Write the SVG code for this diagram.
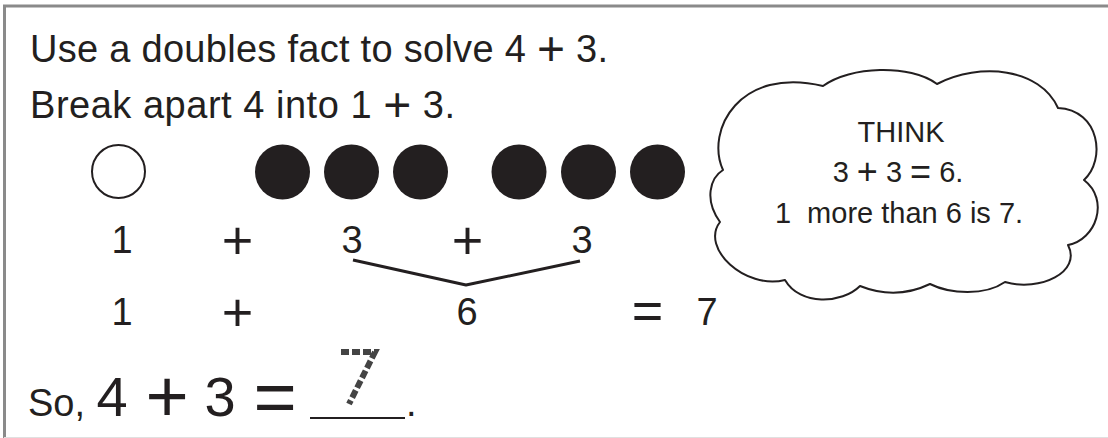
<svg xmlns="http://www.w3.org/2000/svg" width="1108" height="438" viewBox="0 0 1108 438">
<style>
  .t { font-family: "Liberation Sans", Arial, sans-serif; fill: #231f20; }
  .big { font-size: 38px; }
  .eq { font-size: 38px; text-anchor: middle; }
  .op { font-size: 54px; text-anchor: middle; }
  .huge { font-size: 56px; text-anchor: middle; }
  .hop { font-size: 74px; text-anchor: middle; }
  .cl { font-size: 29px; text-anchor: middle; }
  .dot { fill: #231f20; }
  .open { fill: #fff; stroke: #231f20; stroke-width: 2; }
</style>
<rect x="0" y="0" width="1108" height="438" fill="#fff"/>
<g id="frame">
  <line x1="3" y1="6" x2="1108" y2="6" stroke="#8a8a8a" stroke-width="3"/>
  <line x1="4.5" y1="5" x2="4.5" y2="438" stroke="#8a8a8a" stroke-width="3"/>
  <line x1="4" y1="437.5" x2="1108" y2="437.5" stroke="#e0e0e0" stroke-width="1"/>
</g>
<g id="instructions">
  <text class="t big" x="30" y="62" textLength="578" lengthAdjust="spacing">Use a doubles fact to solve 4 <tspan font-size="48" dy="3">+</tspan><tspan dy="-3"> 3.</tspan></text>
  <text class="t big" x="30" y="118" textLength="425" lengthAdjust="spacing">Break apart 4 into 1 <tspan font-size="48" dy="3">+</tspan><tspan dy="-3"> 3.</tspan></text>
</g>
<g id="counters">
  <circle class="open" cx="118.5" cy="171.5" r="26.5"/>
  <circle class="dot" cx="282.5" cy="172" r="27.5"/>
  <circle class="dot" cx="351.5" cy="172" r="27.5"/>
  <circle class="dot" cx="420.5" cy="172" r="27.5"/>
  <circle class="dot" cx="519" cy="172" r="27.5"/>
  <circle class="dot" cx="588.5" cy="172" r="27.5"/>
  <circle class="dot" cx="657.5" cy="172" r="27.5"/>
</g>
<g id="row1">
  <text class="t eq" x="122" y="253">1</text>
  <text class="t op" x="237.5" y="259">+</text>
  <text class="t eq" x="352" y="253">3</text>
  <text class="t op" x="467.5" y="259">+</text>
  <text class="t eq" x="582" y="253">3</text>
</g>
<g id="row2">
  <text class="t eq" x="122" y="325">1</text>
  <text class="t op" x="237.5" y="331">+</text>
  <text class="t eq" x="467" y="325">6</text>
  <text class="t op" x="647.5" y="329">=</text>
  <text class="t eq" x="707" y="325">7</text>
</g>
<g id="connectors">
  <polyline points="353,260 466,285 580,261" fill="none" stroke="#231f20" stroke-width="3" stroke-linejoin="round"/>
</g>
<g id="think-cloud">
  <path d="M 723,170 C 705,130 740,66 823,86 C 850,66 910,64 937,84 C 980,62 1040,68 1058,108 C 1100,110 1106,160 1084,180 C 1110,200 1096,240 1068,245 C 1082,272 1040,292 1005,282 C 985,296 950,294 930,284 C 905,296 880,294 860,286 C 842,304 800,306 785,280 C 745,290 700,248 720,222 C 704,200 710,178 723,170 Z" fill="#fff" stroke="#231f20" stroke-width="2" stroke-linejoin="round"/>
  <text class="t cl" x="901" y="142">THINK</text>
  <text class="t cl" x="898" y="182">3 <tspan font-size="36" dy="2">+</tspan><tspan dy="-2"> 3 </tspan><tspan font-size="36" dy="2">=</tspan><tspan dy="-2"> 6.</tspan></text>
  <text class="t cl" x="899" y="223" xml:space="preserve">1  more than 6 is 7.</text>
</g>
<g id="conclusion">
  <text class="t big" x="28" y="416">So,</text>
  <text class="t huge" x="112" y="416">4</text>
  <text class="t hop" x="167" y="422">+</text>
  <text class="t huge" x="220" y="416">3</text>
  <text class="t hop" x="275" y="422">=</text>
  <line x1="310" y1="418" x2="405" y2="418" stroke="#231f20" stroke-width="2"/>
  <path d="M 341,352 L 375,352 L 349,404" fill="none" stroke="#444" stroke-width="6" stroke-dasharray="8 3"/>
  <text class="t big" x="406" y="416">.</text>
</g>
</svg>
